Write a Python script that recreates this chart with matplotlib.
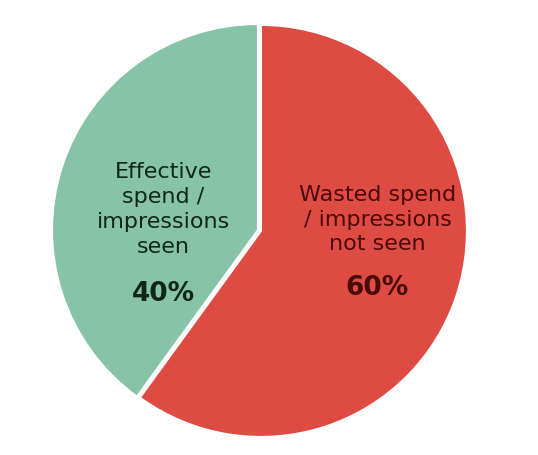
import matplotlib
matplotlib.use("Agg")
import matplotlib.pyplot as plt

labels = ["Wasted spend\n/ impressions\nnot seen", "Effective\nspend /\nimpressions\nseen"]
values = [60, 40]
colors = ["#de4b43", "#87c4a7"]
text_colors = ["#4a0b08", "#10261a"]

fig = plt.figure(figsize=(5.38, 4.55), dpi=100)
r = 206
ax = fig.add_axes([(258 - r) / 538, (225 - r) / 455, 2 * r / 538, 2 * r / 455])
wedges, _ = ax.pie(values, colors=colors, startangle=90, counterclock=False,
                   explode=[0.015, 0], wedgeprops=dict(edgecolor="white", linewidth=1.5))
ax.set_xlim(-1.0, 1.0)
ax.set_ylim(-1.0, 1.0)
ax.set_aspect("equal")

ax.text(0.58, 0.05, labels[0], ha="center", va="center", fontsize=16,
        color=text_colors[0], linespacing=1.3)
ax.text(0.58, -0.28, f"{values[0]}%", ha="center", va="center", fontsize=19,
        fontweight="bold", color=text_colors[0])
ax.text(-0.46, 0.10, labels[1], ha="center", va="center", fontsize=16,
        color=text_colors[1], linespacing=1.3)
ax.text(-0.46, -0.31, f"{values[1]}%", ha="center", va="center", fontsize=19,
        fontweight="bold", color=text_colors[1])

fig.savefig("out.png", dpi=100, facecolor="white")
